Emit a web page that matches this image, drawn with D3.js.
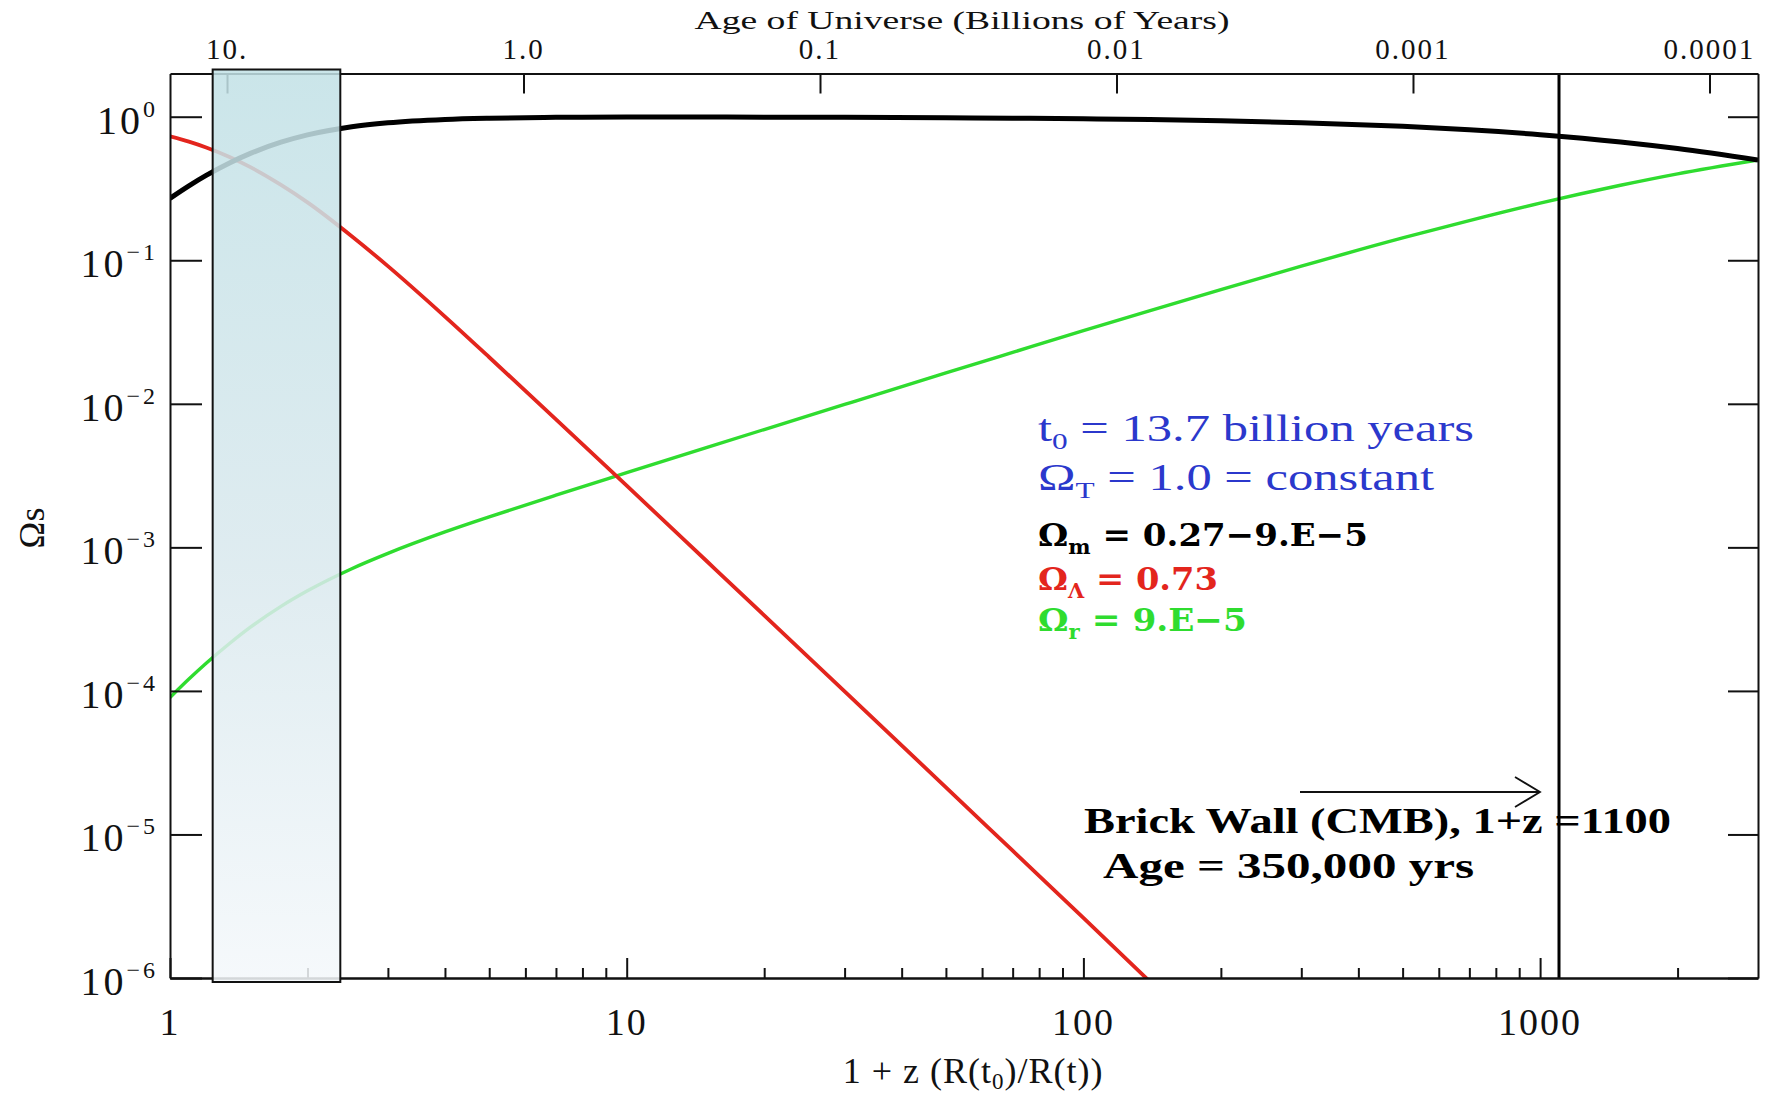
<!DOCTYPE html>
<html>
<head>
<meta charset="utf-8">
<script src="https://cdn.jsdelivr.net/npm/d3@7"></script>
<style>
  html, body { margin: 0; padding: 0; background: #ffffff; }
  svg { display: block; }
  .serif { font-family: "Liberation Serif", "DejaVu Serif", serif; }
</style>
</head>
<body>
<svg id="chart" width="1772" height="1095"></svg>
<script>
// ---- data -------------------------------------------------------------
// redshift samples, 1 + z
const onePlusZ = [1, 1.1, 1.2, 1.35, 1.5, 1.75, 2, 2.5, 3, 4, 5, 7, 10, 15, 20, 30, 50, 70, 100, 140, 200, 300, 500, 700, 1000, 1500, 2000, 3000];
// density parameters at each sample
const omegaMatter = [0.270, 0.330, 0.390, 0.476, 0.555, 0.664, 0.747, 0.852, 0.908, 0.958, 0.977, 0.990, 0.994, 0.994, 0.993, 0.990, 0.984, 0.977, 0.968, 0.955, 0.937, 0.909, 0.857, 0.811, 0.750, 0.667, 0.600, 0.500];
const omegaLambda = [0.730, 0.670, 0.610, 0.524, 0.445, 0.335, 0.253, 0.147, 0.091, 0.0405, 0.0211, 7.8e-3, 2.69e-3, 7.97e-4, 3.36e-4, 9.92e-5, 2.13e-5, 7.7e-6, 2.62e-6, 9.4e-7, null, null, null, null, null, null, null, null];
const omegaRadiation = [9.0e-5, 1.21e-4, 1.56e-4, 2.14e-4, 2.78e-4, 3.88e-4, 4.98e-4, 7.10e-4, 9.08e-4, 1.28e-3, 1.63e-3, 2.31e-3, 3.31e-3, 4.97e-3, 6.62e-3, 9.90e-3, 0.0164, 0.0228, 0.0323, 0.0446, 0.0625, 0.0909, 0.143, 0.189, 0.250, 0.333, 0.400, 0.500];

// axis ticks and labels
const zMajor = [1, 10, 100, 1000];
const zMajorLabels = ["1", "10", "100", "1000"];
const omegaTicks = [1, 0.1, 0.01, 1e-3, 1e-4, 1e-5, 1e-6];
const omegaExponents = ["0", "\u22121", "\u22122", "\u22123", "\u22124", "\u22125", "\u22126"];
const ageTicks = [10, 1, 0.1, 0.01, 0.001, 0.0001];
const ageLabels = ["10.", "1.0", "0.1", "0.01", "0.001", "0.0001"];
// 1+z where the age axis reads 10 Gyr and 0.0001 Gyr
const ageAnchorsZ = [1.333, 2349];

// highlighted band (1+z) and the CMB wall
const bandZ = [1.24, 2.36];
const cmbZ = 1100;

// ---- layout -----------------------------------------------------------
const svg = d3.select("#chart");
const L = 170, R = 1758, T = 73.5, B = 978;

const x = d3.scaleLog().domain([1, 3000]).range([L, R]);
const y = d3.scaleLog().domain([1e-6, 2]).range([B, T]);
const age = d3.scaleLog().domain([10, 0.0001]).range([x(ageAnchorsZ[0]), x(ageAnchorsZ[1])]);

const defs = svg.append("defs");
defs.append("clipPath").attr("id", "plotClip")
  .append("rect").attr("x", L).attr("y", T).attr("width", R - L).attr("height", B - T);
const grad = defs.append("linearGradient").attr("id", "bandGrad")
  .attr("x1", 0).attr("y1", 0).attr("x2", 0).attr("y2", 1);
grad.append("stop").attr("offset", "0%").attr("stop-color", "#c2e1e6");
grad.append("stop").attr("offset", "55%").attr("stop-color", "#dae9ee");
grad.append("stop").attr("offset", "100%").attr("stop-color", "#f4f8fb");

// ---- curves -----------------------------------------------------------
const rows = onePlusZ.map((z, i) => ({ z, m: omegaMatter[i], l: omegaLambda[i], r: omegaRadiation[i] }));
const lineFor = key => d3.line()
  .defined(d => d[key] != null)
  .x(d => x(d.z)).y(d => y(d[key]))
  .curve(d3.curveMonotoneX);

const curves = svg.append("g").attr("clip-path", "url(#plotClip)");
curves.append("path").datum(rows).attr("d", lineFor("r"))
  .attr("fill", "none").attr("stroke", "#2fdc2f").attr("stroke-width", 3.4);
curves.append("path").datum(rows).attr("d", lineFor("l"))
  .attr("fill", "none").attr("stroke", "#e3251d").attr("stroke-width", 3.8);
curves.append("path").datum(rows).attr("d", lineFor("m"))
  .attr("fill", "none").attr("stroke", "#000").attr("stroke-width", 5);

// CMB wall
svg.append("line")
  .attr("x1", x(cmbZ)).attr("x2", x(cmbZ)).attr("y1", T).attr("y2", B)
  .attr("stroke", "#000").attr("stroke-width", 3);

// ---- axes -------------------------------------------------------------
const axisStyle = g => {
  g.selectAll("path.domain").attr("stroke", "#111").attr("stroke-width", 2);
  g.selectAll(".tick line").attr("stroke", "#111").attr("stroke-width", 2);
  g.selectAll(".tick text").remove();
};

const minorZ = x.ticks().filter(v => !zMajor.includes(v) && v < 3000);
svg.append("g").attr("transform", `translate(0,${B})`)
  .call(d3.axisBottom(x).tickValues(zMajor).tickSizeInner(-20).tickSizeOuter(0)).call(axisStyle);
svg.append("g").attr("transform", `translate(0,${B})`)
  .call(d3.axisBottom(x).tickValues(minorZ).tickSizeInner(-10).tickSizeOuter(0)).call(axisStyle);

svg.append("g").attr("transform", `translate(0,${T})`)
  .call(d3.axisTop(x).tickValues([]).tickSizeOuter(0)).call(axisStyle);
svg.append("g")
  .call(d3.axisTop(age).tickValues(ageTicks).tickSizeInner(-20).tickSizeOuter(0))
  .attr("transform", `translate(0,${T})`).call(axisStyle)
  .select("path.domain").remove();

svg.append("g").attr("transform", `translate(${L},0)`)
  .call(d3.axisLeft(y).tickValues(omegaTicks).tickSizeInner(-32).tickSizeOuter(0)).call(axisStyle);
svg.append("g").attr("transform", `translate(${R},0)`)
  .call(d3.axisRight(y).tickValues(omegaTicks).tickSizeInner(-30).tickSizeOuter(0)).call(axisStyle);

// tick labels: bottom
svg.append("g").selectAll("text").data(zMajor).join("text")
  .attr("class", "serif")
  .attr("x", d => x(d)).attr("y", 1035)
  .attr("text-anchor", "middle").attr("font-size", 38).attr("letter-spacing", 2).attr("fill", "#111")
  .text((d, i) => zMajorLabels[i]);

// tick labels: left, powers of ten
const yl = svg.append("g").selectAll("text").data(omegaTicks).join("text")
  .attr("class", "serif")
  .attr("x", 158).attr("y", d => y(d) + 17)
  .attr("text-anchor", "end").attr("font-size", 40).attr("letter-spacing", 3).attr("fill", "#111");
yl.append("tspan").text("10");
yl.append("tspan").attr("dy", -17).attr("font-size", 24).text((d, i) => omegaExponents[i]);

// tick labels: top, age
svg.append("g").selectAll("text").data(ageTicks).join("text")
  .attr("class", "serif")
  .attr("x", d => age(d)).attr("y", 59)
  .attr("text-anchor", "middle").attr("font-size", 29).attr("letter-spacing", 2).attr("fill", "#111")
  .text((d, i) => ageLabels[i]);

// axis titles
svg.append("text").attr("class", "serif")
  .attr("x", 962).attr("y", 29).attr("text-anchor", "middle")
  .attr("font-size", 26).attr("textLength", 535).attr("lengthAdjust", "spacingAndGlyphs")
  .attr("fill", "#111").text("Age of Universe (Billions of Years)");

const xt = svg.append("text").attr("class", "serif")
  .attr("x", 973).attr("y", 1083).attr("text-anchor", "middle")
  .attr("font-size", 36).attr("letter-spacing", 1).attr("fill", "#111");
xt.append("tspan").text("1 + z (R(t");
xt.append("tspan").attr("dy", 6).attr("font-size", 23).text("0");
xt.append("tspan").attr("dy", -6).text(")/R(t))");

svg.append("text").attr("class", "serif")
  .attr("transform", "translate(44,528) rotate(-90)")
  .attr("text-anchor", "middle").attr("font-size", 36).attr("fill", "#111")
  .text("\u03A9s");

// ---- highlighted band (drawn over the curves, translucent) -------------
svg.append("rect")
  .attr("x", x(bandZ[0])).attr("y", T - 4)
  .attr("width", x(bandZ[1]) - x(bandZ[0])).attr("height", B - T + 8)
  .attr("fill", "url(#bandGrad)").attr("fill-opacity", 0.86)
  .attr("stroke", "#111").attr("stroke-width", 2);

// ---- annotations ------------------------------------------------------
function rich(xp, yp, parts, opt) {
  const t = svg.append("text")
    .attr("x", xp).attr("y", yp)
    .attr("font-family", opt.family).attr("font-weight", opt.weight || "normal")
    .attr("font-size", opt.size).attr("fill", opt.color);
  if (opt.length) t.attr("textLength", opt.length).attr("lengthAdjust", "spacingAndGlyphs");
  let shift = 0;
  parts.forEach(p => {
    const s = t.append("tspan").text(p.t);
    if (p.sub) { s.attr("dy", 8 - shift).attr("font-size", opt.size * 0.62); shift = 8; }
    else if (shift) { s.attr("dy", -shift); shift = 0; }
  });
  return t;
}

const serif = '"Liberation Serif", "DejaVu Serif", serif';
const heavy = '"DejaVu Serif", "Liberation Serif", serif';

rich(1038, 441, [{ t: "t" }, { t: "0", sub: true }, { t: " = 13.7 billion years" }],
  { family: serif, size: 37, color: "#2b38cc", length: 436 });
rich(1038, 490, [{ t: "\u03A9" }, { t: "T", sub: true }, { t: " = 1.0 = constant" }],
  { family: serif, size: 37, color: "#2b38cc", length: 396 });
rich(1038, 546, [{ t: "\u03A9" }, { t: "m", sub: true }, { t: " = 0.27\u22129.E\u22125" }],
  { family: heavy, weight: "bold", size: 32, color: "#000", length: 330 });
rich(1038, 590, [{ t: "\u03A9" }, { t: "\u039B", sub: true }, { t: " = 0.73" }],
  { family: heavy, weight: "bold", size: 32, color: "#e3251d", length: 180 });
rich(1038, 631, [{ t: "\u03A9" }, { t: "r", sub: true }, { t: " = 9.E\u22125" }],
  { family: heavy, weight: "bold", size: 32, color: "#2fdc2f", length: 209 });

svg.append("text").attr("x", 1084).attr("y", 833)
  .attr("font-family", serif).attr("font-weight", "bold").attr("font-size", 35)
  .attr("textLength", 587).attr("lengthAdjust", "spacingAndGlyphs").attr("fill", "#000")
  .text("Brick Wall (CMB), 1+z =1100");
svg.append("text").attr("x", 1103).attr("y", 878)
  .attr("font-family", serif).attr("font-weight", "bold").attr("font-size", 35)
  .attr("textLength", 371).attr("lengthAdjust", "spacingAndGlyphs").attr("fill", "#000")
  .text("Age = 350,000 yrs");

// arrow pointing at the wall
const ax1 = 1300, ax2 = x(cmbZ) - 19, ay = 792;
svg.append("path")
  .attr("d", `M${ax1},${ay}H${ax2}M${ax2 - 25},${ay - 15}L${ax2},${ay}L${ax2 - 25},${ay + 15}`)
  .attr("fill", "none").attr("stroke", "#111").attr("stroke-width", 1.8);
</script>
</body>
</html>
